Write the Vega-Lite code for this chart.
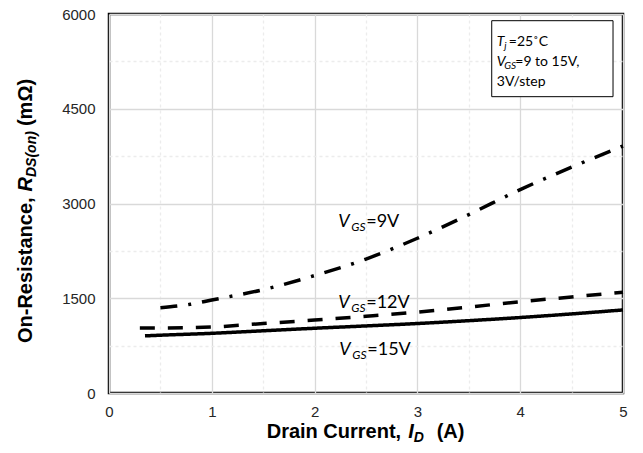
{
  "$schema": "https://vega.github.io/schema/vega-lite/v6.json",
  "width": 514,
  "height": 379,
  "autosize": {"type": "none"},
  "padding": {"left": 109, "top": 14, "right": 20, "bottom": 60},
  "background": "white",
  "config": {
    "view": {"stroke": "black", "strokeWidth": 2.5},
    "text": {"color": "black"}
  },
  "datasets": {
    "curves": [
      {"vgs": "9V", "id": 0.5, "r": 1350},
      {"vgs": "9V", "id": 0.79, "r": 1404},
      {"vgs": "9V", "id": 1.0, "r": 1472},
      {"vgs": "9V", "id": 1.5, "r": 1636},
      {"vgs": "9V", "id": 2.0, "r": 1859},
      {"vgs": "9V", "id": 2.5, "r": 2120},
      {"vgs": "9V", "id": 3.0, "r": 2450},
      {"vgs": "9V", "id": 3.5, "r": 2825},
      {"vgs": "9V", "id": 4.0, "r": 3220},
      {"vgs": "9V", "id": 4.5, "r": 3575},
      {"vgs": "9V", "id": 5.0, "r": 3910},
      {"vgs": "12V", "id": 0.3, "r": 1030},
      {"vgs": "12V", "id": 0.5, "r": 1030},
      {"vgs": "12V", "id": 1.0, "r": 1045},
      {"vgs": "12V", "id": 1.5, "r": 1100},
      {"vgs": "12V", "id": 2.0, "r": 1155},
      {"vgs": "12V", "id": 2.5, "r": 1215},
      {"vgs": "12V", "id": 3.0, "r": 1280},
      {"vgs": "12V", "id": 3.5, "r": 1360},
      {"vgs": "12V", "id": 4.0, "r": 1445},
      {"vgs": "12V", "id": 4.5, "r": 1520},
      {"vgs": "12V", "id": 5.0, "r": 1595},
      {"vgs": "15V", "id": 0.35, "r": 905},
      {"vgs": "15V", "id": 0.5, "r": 915},
      {"vgs": "15V", "id": 1.0, "r": 945},
      {"vgs": "15V", "id": 1.5, "r": 985},
      {"vgs": "15V", "id": 2.0, "r": 1025},
      {"vgs": "15V", "id": 2.5, "r": 1062},
      {"vgs": "15V", "id": 3.0, "r": 1100},
      {"vgs": "15V", "id": 3.5, "r": 1145},
      {"vgs": "15V", "id": 4.0, "r": 1195},
      {"vgs": "15V", "id": 4.5, "r": 1252},
      {"vgs": "15V", "id": 5.0, "r": 1315}
    ],
    "curveLabels": [
      {"id": 2.23, "r": 2630, "rest": "=9V"},
      {"id": 2.23, "r": 1346, "rest": "=12V"},
      {"id": 2.24, "r": 602, "rest": "=15V"}
    ],
    "noteBox": [{"id": 3.723, "id2": 4.903, "r": 5894, "r2": 4691}],
    "noteLine1": [{"id": 3.772, "r": 5491}],
    "noteLine2": [{"id": 3.772, "r": 5177}],
    "noteLine3": [{"id": 3.772, "r": 4865}],
    "xTitle": [{"id": 1.534, "r": -708}],
    "yTitle": [{"id": -0.749, "r": 791}]
  },
  "encoding": {
    "x": {
      "field": "id", "type": "quantitative",
      "scale": {"domain": [0, 5], "nice": false, "zero": false},
      "axis": {
        "title": null,
        "values": [0, 0.5, 1, 1.5, 2, 2.5, 3, 3.5, 4, 4.5, 5],
        "labelExpr": "datum.value % 1 === 0 ? format(datum.value, 'd') : ''",
        "labelFlush": false,
        "ticks": false,
        "domain": false,
        "grid": true,
        "gridColor": {"condition": {"test": "datum.value % 1 === 0", "value": "#d9d9d9"}, "value": "#ececec"},
        "gridDash": {"condition": {"test": "datum.value % 1 === 0", "value": []}, "value": [3, 3]},
        "gridWidth": 1.3,
        "labelFont": "Liberation Sans",
        "labelFontSize": 15,
        "labelColor": "#262626",
        "labelPadding": 11
      }
    },
    "y": {
      "field": "r", "type": "quantitative",
      "scale": {"domain": [0, 6000], "nice": false, "zero": false},
      "axis": {
        "title": null,
        "values": [0, 750, 1500, 2250, 3000, 3750, 4500, 5250, 6000],
        "labelExpr": "datum.value % 1500 === 0 ? format(datum.value, 'd') : ''",
        "ticks": false,
        "domain": false,
        "grid": true,
        "gridColor": {"condition": {"test": "datum.value % 1500 === 0", "value": "#d9d9d9"}, "value": "#ececec"},
        "gridDash": {"condition": {"test": "datum.value % 1500 === 0", "value": []}, "value": [3, 3]},
        "gridWidth": 1.3,
        "labelFont": "Liberation Sans",
        "labelFontSize": 15,
        "labelColor": "#262626",
        "labelPadding": 14
      }
    }
  },
  "layer": [
    {
      "data": {"name": "curves"},
      "mark": {"type": "line", "interpolate": "monotone", "strokeWidth": 3.5, "color": "black", "strokeCap": "butt"},
      "encoding": {
        "detail": {"field": "vgs"},
        "strokeDash": {
          "field": "vgs", "type": "nominal",
          "scale": {"domain": ["9V", "12V", "15V"], "range": [[17, 11, 3, 11], [15, 13], [1, 0]]},
          "legend": null
        }
      }
    },
    {
      "data": {"name": "curveLabels"},
      "mark": {"type": "text", "text": "V", "font": "Lato", "fontStyle": "italic", "fontSize": 18, "align": "left", "baseline": "alphabetic"}
    },
    {
      "data": {"name": "curveLabels"},
      "mark": {"type": "text", "text": "GS", "font": "Lato", "fontStyle": "italic", "fontSize": 12, "align": "left", "baseline": "alphabetic", "dx": 13, "dy": 4}
    },
    {
      "data": {"name": "curveLabels"},
      "mark": {"type": "text", "font": "Lato", "fontSize": 18, "align": "left", "baseline": "alphabetic", "dx": 28},
      "encoding": {"text": {"field": "rest"}}
    },
    {
      "data": {"name": "noteBox"},
      "mark": {"type": "rect", "fill": "white", "stroke": "black", "strokeWidth": 1},
      "encoding": {
        "x2": {"field": "id2"},
        "y2": {"field": "r2"}
      }
    },
    {
      "data": {"name": "noteLine1"},
      "mark": {"type": "text", "text": "T", "font": "Lato", "fontStyle": "italic", "fontSize": 14, "align": "left", "baseline": "alphabetic"}
    },
    {
      "data": {"name": "noteLine1"},
      "mark": {"type": "text", "text": "j", "font": "Lato", "fontStyle": "italic", "fontSize": 10, "align": "left", "baseline": "alphabetic", "dx": 7.5, "dy": 3}
    },
    {
      "data": {"name": "noteLine1"},
      "mark": {"type": "text", "text": "=25˚C", "font": "Lato", "fontSize": 14, "align": "left", "baseline": "alphabetic", "dx": 12}
    },
    {
      "data": {"name": "noteLine2"},
      "mark": {"type": "text", "text": "V", "font": "Lato", "fontStyle": "italic", "fontSize": 14, "align": "left", "baseline": "alphabetic"}
    },
    {
      "data": {"name": "noteLine2"},
      "mark": {"type": "text", "text": "GS", "font": "Lato", "fontStyle": "italic", "fontSize": 10, "align": "left", "baseline": "alphabetic", "dx": 7.5, "dy": 3}
    },
    {
      "data": {"name": "noteLine2"},
      "mark": {"type": "text", "text": "=9 to 15V,", "font": "Lato", "fontSize": 14, "align": "left", "baseline": "alphabetic", "dx": 18.5}
    },
    {
      "data": {"name": "noteLine3"},
      "mark": {"type": "text", "text": "3V/step", "font": "Lato", "fontSize": 14, "align": "left", "baseline": "alphabetic"}
    },
    {
      "data": {"name": "xTitle"},
      "mark": {"type": "text", "text": "Drain Current,", "font": "Liberation Sans", "fontWeight": "bold", "fontSize": 20, "align": "left", "baseline": "alphabetic"}
    },
    {
      "data": {"name": "xTitle"},
      "mark": {"type": "text", "text": "I", "font": "Liberation Sans", "fontWeight": "bold", "fontStyle": "italic", "fontSize": 20, "align": "left", "baseline": "alphabetic", "dx": 141.5}
    },
    {
      "data": {"name": "xTitle"},
      "mark": {"type": "text", "text": "D", "font": "Liberation Sans", "fontWeight": "bold", "fontStyle": "italic", "fontSize": 14, "align": "left", "baseline": "alphabetic", "dx": 147, "dy": 4}
    },
    {
      "data": {"name": "xTitle"},
      "mark": {"type": "text", "text": "(A)", "font": "Liberation Sans", "fontWeight": "bold", "fontSize": 20, "align": "left", "baseline": "alphabetic", "dx": 170}
    },
    {
      "data": {"name": "yTitle"},
      "mark": {"type": "text", "text": "On-Resistance,", "font": "Liberation Sans", "fontWeight": "bold", "fontSize": 20, "align": "left", "baseline": "alphabetic", "angle": 270}
    },
    {
      "data": {"name": "yTitle"},
      "mark": {"type": "text", "text": "R", "font": "Liberation Sans", "fontWeight": "bold", "fontStyle": "italic", "fontSize": 20, "align": "left", "baseline": "alphabetic", "angle": 270, "dx": 151.5}
    },
    {
      "data": {"name": "yTitle"},
      "mark": {"type": "text", "text": "DS(on)", "font": "Liberation Sans", "fontWeight": "bold", "fontStyle": "italic", "fontSize": 14, "align": "left", "baseline": "alphabetic", "angle": 270, "dx": 166, "dy": 4}
    },
    {
      "data": {"name": "yTitle"},
      "mark": {"type": "text", "text": "(mΩ)", "font": "Liberation Sans", "fontWeight": "bold", "fontSize": 20, "align": "left", "baseline": "alphabetic", "angle": 270, "dx": 217}
    }
  ]
}
